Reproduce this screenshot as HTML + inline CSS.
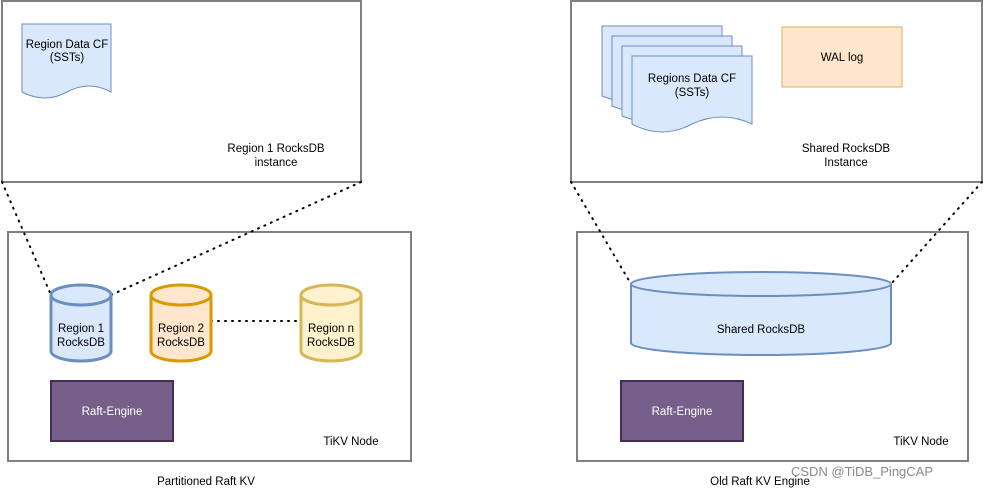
<!DOCTYPE html>
<html><head><meta charset="utf-8"><style>
html,body{margin:0;padding:0;background:#fff;}
svg{display:block;font-family:"Liberation Sans",Helvetica,Arial,sans-serif;}
</style></head><body>
<svg width="983" height="492" viewBox="0 0 983 492" xmlns="http://www.w3.org/2000/svg">
<g fill="#fff" stroke="#808080" stroke-width="2">
<rect x="2" y="1" width="359" height="181"/>
<rect x="8" y="232" width="403" height="229"/>
<rect x="571" y="1" width="411" height="181"/>
<rect x="577" y="232" width="391" height="229"/>
</g>
<g stroke="#000" stroke-width="2" stroke-dasharray="1 6" stroke-linecap="round" fill="none">
<line x1="2" y1="182" x2="51" y2="295"/>
<line x1="361" y1="182" x2="111" y2="295"/>
<line x1="211" y1="321" x2="301" y2="321"/>
<line x1="571" y1="182" x2="631" y2="284"/>
<line x1="982" y1="182" x2="891" y2="284"/>
</g>
<path d="M22 24 H111 V92 Q89 80 67 92 Q45 104 22 92 Z" fill="#dae8fc" stroke="#6c8ebf"/>
<g font-size="11.5" text-anchor="middle" fill="#000">
<text x="67" y="48">Region Data CF</text><text x="67" y="61">(SSTs)</text>
<text x="276" y="152">Region 1 RocksDB</text><text x="276" y="166">instance</text>
</g>
<g stroke-width="3">
<path d="M51 295 V351 A30 10 0 0 0 111 351 V295" fill="#dae8fc" stroke="#6c8ebf"/>
<ellipse cx="81" cy="295" rx="30" ry="10" fill="#dae8fc" stroke="#6c8ebf"/>
<path d="M151 295 V351 A30 10 0 0 0 211 351 V295" fill="#ffe6cc" stroke="#d79b00"/>
<ellipse cx="181" cy="295" rx="30" ry="10" fill="#ffe6cc" stroke="#d79b00"/>
<path d="M301 295 V351 A30 10 0 0 0 361 351 V295" fill="#fff2cc" stroke="#d6b656"/>
<ellipse cx="331" cy="295" rx="30" ry="10" fill="#fff2cc" stroke="#d6b656"/>
</g>
<g font-size="11.5" text-anchor="middle" fill="#000">
<text x="81" y="332">Region 1</text><text x="81" y="346">RocksDB</text>
<text x="181" y="332">Region 2</text><text x="181" y="346">RocksDB</text>
<text x="331" y="332">Region n</text><text x="331" y="346">RocksDB</text>
</g>
<rect x="51" y="381" width="122" height="60" fill="#76608a" stroke="#432d57" stroke-width="2"/>
<text x="112" y="415" font-size="11.5" fill="#fff" text-anchor="middle">Raft-Engine</text>
<text x="351" y="445" font-size="11.5" text-anchor="middle">TiKV Node</text>
<g fill="#dae8fc" stroke="#6c8ebf">
<path d="M602 26 H722 V96 Q692 84 662 96 Q632 108 602 96 Z"/>
<path d="M612 36 H732 V106 Q702 94 672 106 Q642 118 612 106 Z"/>
<path d="M622 46 H742 V116 Q712 104 682 116 Q652 128 622 116 Z"/>
<path d="M632 56 H752 V124 Q722 110 692 124 Q662 140 632 124 Z"/>
</g>
<rect x="782" y="27" width="120" height="60" fill="#ffe6cc" stroke="#d6b656"/>
<g font-size="11.5" text-anchor="middle" fill="#000">
<text x="692" y="82">Regions Data CF</text><text x="692" y="96">(SSTs)</text>
<text x="842" y="61">WAL log</text>
<text x="846" y="152">Shared RocksDB</text><text x="846" y="166">Instance</text>
</g>
<path d="M631 284 V343 A130 12 0 0 0 891 343 V284" fill="#dae8fc" stroke="#6c8ebf" stroke-width="2"/>
<ellipse cx="761" cy="284" rx="130" ry="12" fill="#dae8fc" stroke="#6c8ebf" stroke-width="2"/>
<text x="761" y="333" font-size="11.5" text-anchor="middle">Shared RocksDB</text>
<rect x="621" y="381" width="122" height="60" fill="#76608a" stroke="#432d57" stroke-width="2"/>
<text x="682" y="415" font-size="11.5" fill="#fff" text-anchor="middle">Raft-Engine</text>
<text x="921" y="445" font-size="11.5" text-anchor="middle">TiKV Node</text>
<text x="206" y="485" font-size="11.5" text-anchor="middle">Partitioned Raft KV</text>
<text x="760" y="485" font-size="11.5" text-anchor="middle">Old Raft KV Engine</text>
<text x="862" y="476" font-size="13" fill="#8a8a8a" text-anchor="middle">CSDN @TiDB_PingCAP</text>
</svg>
</body></html>
